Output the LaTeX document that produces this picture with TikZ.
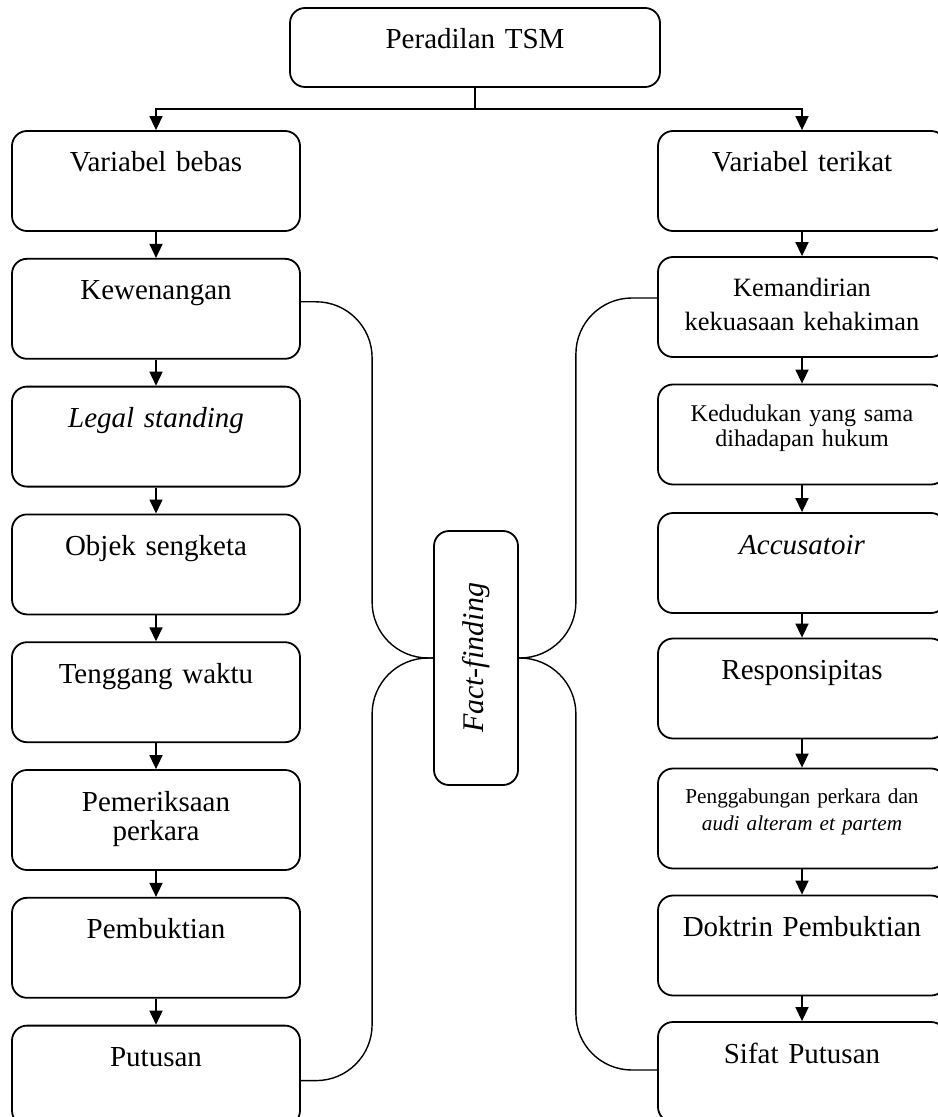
\documentclass[tikz,border=0pt]{standalone}
\usepackage{fontspec}
\setmainfont{Liberation Serif}
\usetikzlibrary{arrows.meta, positioning, calc}

\tikzset{
  box/.style={draw, line width=0.9pt, rounded corners=7.5pt, inner sep=0pt,
    minimum width=144pt, minimum height=50pt, text width=136pt, align=center,
    text height=20.5pt, text depth=29.5pt, font=\fontsize{14.5}{14.5}\selectfont},
  ffbox/.style={draw, line width=0.9pt, rounded corners=7.5pt, inner sep=0pt,
    minimum width=127pt, minimum height=42pt, font=\fontsize{15}{15}\selectfont\itshape},
  link/.style={line width=0.7pt, rounded corners=28pt},
}

\begin{document}
\begin{tikzpicture}[x=0.5pt, y=-0.5pt, >={Triangle[length=7pt,width=6.5pt]}]
\useasboundingbox (0,0) rectangle (937,1117);

% root and split
\node[box, minimum width=185pt, minimum height=39.5pt, text width=175pt, text depth=19pt] (tsm) at (475,47.5) {Peradilan TSM};
\draw[line width=0.8pt] (tsm.south) -- ++(0,21) coordinate (split);

% left column
\node[box] (vb) at (156,181) {Variabel bebas};
\node[box, below=13pt of vb] (kew) {Kewenangan};
\node[box, below=13pt of kew] (leg) {\itshape Legal standing};
\node[box, below=13pt of leg] (obj) {Objek sengketa};
\node[box, below=13pt of obj] (ten) {Tenggang waktu};
\node[box, below=13pt of ten] (pem) {Pemeriksaan\\perkara};
\node[box, below=13pt of pem] (pbk) {Pembuktian};
\node[box, below=13pt of pbk] (put) {Putusan};

% right column
\node[box] (vt) at (802,181) {Variabel terikat};
\node[box, text height=20pt, text depth=30pt, font=\fontsize{13.2}{17}\selectfont] (kem) at (802,307) {Kemandirian\\kekuasaan kehakiman};
\node[box, text height=18.5pt, text depth=31.5pt, font=\fontsize{12}{12.5}\selectfont] (ked) at (802,434.5) {Kedudukan yang sama\\dihadapan hukum};
\node[box] (acc) at (802,563) {\itshape Accusatoir};
\node[box] (res) at (802,688.5) {Responsipitas};
\node[box, text height=17.5pt, text depth=32.5pt, font=\fontsize{10.6}{13.5}\selectfont] (pgb) at (802,818.5) {Penggabungan perkara dan\\\itshape audi alteram et partem};
\node[box] (dok) at (802,945.5) {Doktrin Pembuktian};
\node[box] (sif) at (802,1072) {Sifat Putusan};

\draw[->, line width=0.8pt] (split) -| (vb.north);
\draw[->, line width=0.8pt] (split) -| (vt.north);

\foreach \a/\b in {vb/kew, kew/leg, leg/obj, obj/ten, ten/pem, pem/pbk, pbk/put,
                   vt/kem, kem/ked, ked/acc, acc/res, res/pgb, pgb/dok, dok/sif} {
    \draw[->, line width=0.8pt] (\a.south) -- (\b.north);
};

% fact-finding in the middle
\node[ffbox, rotate=90] (ff) at (476,658) {Fact-finding};

\draw[link] ([yshift=3.5pt]kew.east) -| ([xshift=-30.5pt]ff.north) -- (ff.north);
\draw[link] (ff.north) -- ([xshift=-30.5pt]ff.north) |- ([yshift=-2.5pt]put.east);
\draw[link] ([yshift=4.5pt]kem.west) -| ([xshift=28.5pt]ff.south) -- (ff.south);
\draw[link] (ff.south) -- ([xshift=28.5pt]ff.south) |- ([yshift=1pt]sif.west);

\end{tikzpicture}
\end{document}
